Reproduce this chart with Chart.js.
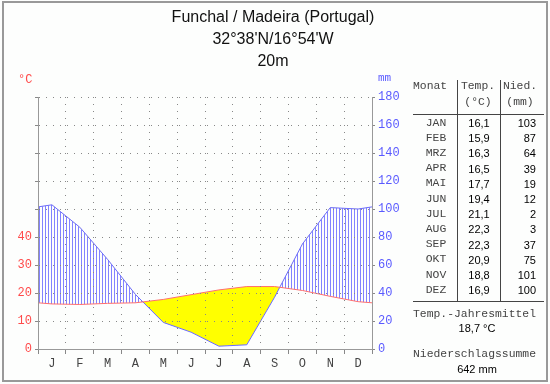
<!DOCTYPE html>
<html><head><meta charset="utf-8">
<script src="https://cdn.jsdelivr.net/npm/chart.js@4/dist/chart.umd.min.js"></script>
<style>
html,body{margin:0;padding:0;background:#fdfefd;}
#wrap{position:relative;width:550px;height:384px;overflow:hidden;background:#fdfefd;}
#frame{position:absolute;left:2px;top:1px;width:546px;height:381px;border:2px solid #999;box-sizing:border-box;pointer-events:none;}
canvas{position:absolute;left:0;top:0;}
.t{position:absolute;white-space:nowrap;}
.ln{position:absolute;background:#444;}
</style></head><body>
<div id="wrap"><canvas id="c" width="550" height="384"></canvas><div id="frame"></div></div>
<script>
// ---- data ----
const titleLines = ['Funchal / Madeira (Portugal)', "32°38'N/16°54'W", '20m'];
const monthLetters = ['J','F','M','A','M','J','J','A','S','O','N','D'];
const monthNames = ['JAN','FEB','MRZ','APR','MAI','JUN','JUL','AUG','SEP','OKT','NOV','DEZ'];
const temperature = [16.1, 15.9, 16.3, 16.5, 17.7, 19.4, 21.1, 22.3, 22.3, 20.9, 18.8, 16.9];
const precipitation = [103, 87, 64, 39, 19, 12, 2, 3, 37, 75, 101, 100];
const tempTicksShownMax = 40;
const annualMeanText = '18,7 °C';
const annualSumText = '642 mm';

// ---- helpers ----
const wrap = document.getElementById('wrap');
const MONO = '"Liberation Mono", "DejaVu Sans Mono", monospace';
const SANS = '"Liberation Sans", Arial, sans-serif';
function txt(s, x, y, o) {
  const d = document.createElement('div');
  d.className = 't';
  d.textContent = s;
  const fs = o.size || 12;
  d.style.fontFamily = o.family || SANS;
  d.style.fontSize = fs + 'px';
  d.style.lineHeight = (fs * 1.2) + 'px';
  d.style.color = o.color || '#000';
  d.style.top = (y - fs * 0.6) + 'px';
  const a = o.align || 'left';
  if (a === 'left') d.style.left = x + 'px';
  else if (a === 'center') { d.style.left = x + 'px'; d.style.transform = 'translateX(-50%)'; }
  else d.style.right = (550 - x) + 'px';
  wrap.appendChild(d);
}
function line(x, y, w, h) {
  const d = document.createElement('div');
  d.className = 'ln';
  d.style.left = x + 'px'; d.style.top = y + 'px';
  d.style.width = w + 'px'; d.style.height = h + 'px';
  wrap.appendChild(d);
}

// ---- title ----
const titleY = [17, 39, 61];
titleLines.forEach((s, i) => txt(s, 273, titleY[i], {size: 16, family: SANS, color: '#111', align: 'center'}));

// axis unit labels
txt('°C', 18, 80, {size: 12, family: MONO, color: '#ff4a4a'});
txt('mm', 378, 79, {size: 11, family: MONO, color: '#5a5aff'});

// ---- table ----
line(457, 80, 1, 221);
line(500, 80, 1, 221);
line(413, 114, 131, 1);
line(413, 301, 131, 1);
txt('Monat', 413, 87, {size: 11.4, family: MONO, color: '#444'});
txt('Temp.', 478, 87, {size: 11.4, family: MONO, color: '#444', align: 'center'});
txt('(°C)', 478, 103, {size: 11.4, family: MONO, color: '#444', align: 'center'});
txt('Nied.', 520, 87, {size: 11.4, family: MONO, color: '#444', align: 'center'});
txt('(mm)', 520, 103, {size: 11.4, family: MONO, color: '#444', align: 'center'});
monthNames.forEach((m, i) => {
  const y = 123.5 + i * 15.2;
  txt(m, 436, y, {size: 11.4, family: MONO, color: '#444', align: 'center'});
  txt(temperature[i].toFixed(1).replace('.', ','), 479, y, {size: 11, family: SANS, color: '#000', align: 'center'});
  txt(String(precipitation[i]), 536, y, {size: 11, family: SANS, color: '#000', align: 'right'});
});
txt('Temp.-Jahresmittel', 413, 315, {size: 11.4, family: MONO, color: '#444'});
txt(annualMeanText, 477, 329, {size: 11, family: SANS, color: '#000', align: 'center'});
txt('Niederschlagssumme', 413, 355, {size: 11.4, family: MONO, color: '#444'});
txt(annualSumText, 477, 370, {size: 11, family: SANS, color: '#000', align: 'center'});

// ---- chart ----
const canvas = document.getElementById('c');
const ctx = canvas.getContext('2d');
const pc = document.createElement('canvas');
pc.width = 3; pc.height = 1;
const pg = pc.getContext('2d');
pg.fillStyle = '#8282ff';
pg.fillRect(0, 0, 1, 1);
const hatch = ctx.createPattern(pc, 'repeat');

// monthly points at month centres; the neighbouring year's month on each side so the curve reaches the frame
const toPoints = arr => [{x: -0.5, y: arr[11]}]
  .concat(arr.map((v, i) => ({x: i + 0.5, y: v})))
  .concat([{x: 12.5, y: arr[0]}]);

new Chart(ctx, {
  type: 'line',
  data: {
    datasets: [
      {
        label: 'Temp',
        data: toPoints(temperature),
        yAxisID: 'y',
        borderColor: '#ff6e6e',
        borderWidth: 1,
        pointRadius: 0,
        tension: 0,
        clip: 0,
        fill: {target: 1, above: 'rgb(255,255,0)', below: hatch}
      },
      {
        label: 'Nied',
        data: toPoints(precipitation),
        yAxisID: 'y2',
        borderColor: '#6a6aff',
        borderWidth: 1,
        pointRadius: 0,
        tension: 0,
        clip: 0,
        fill: false
      }
    ]
  },
  options: {
    responsive: false,
    animation: false,
    events: [],
    layout: {padding: {top: 97, left: 0, right: 0, bottom: 0}},
    plugins: {
      legend: {display: false},
      tooltip: {enabled: false},
      filler: {drawTime: 'beforeDatasetsDraw'}
    },
    scales: {
      x: {
        type: 'linear', min: 0, max: 12,
        afterBuildTicks: s => { s.ticks = monthLetters.map((m, i) => ({value: i + 0.5})); },
        afterFit: s => { s.height = 35; },
        ticks: {autoSkip: false, maxRotation: 0, callback: (v, i) => monthLetters[i], color: '#444',
                font: {family: MONO, size: 12}, padding: 3},
        grid: {offset: true, color: '#888', tickColor: '#888', tickLength: 5, tickBorderDash: [], z: 1},
        border: {color: '#999', dash: [1, 6], z: 2}
      },
      y: {
        position: 'left', min: 0, max: 90,
        afterFit: s => { s.width = 38; },
        ticks: {stepSize: 10, callback: v => (v <= tempTicksShownMax ? String(v) : ''), color: '#ff4a4a',
                font: {family: MONO, size: 12}, padding: 3},
        grid: {color: '#888', tickColor: '#888', tickLength: 3, tickBorderDash: [], z: 1},
        border: {color: '#999', dash: [1, 6], z: 2}
      },
      y2: {
        position: 'right', min: 0, max: 180,
        afterFit: s => { s.width = 178; },
        ticks: {stepSize: 20, color: '#5a5aff', font: {family: MONO, size: 12}, padding: 3},
        grid: {drawOnChartArea: false, tickColor: '#888', tickLength: 3, tickBorderDash: []},
        border: {color: '#999', z: 2}
      }
    }
  }
});
</script>
</body></html>
